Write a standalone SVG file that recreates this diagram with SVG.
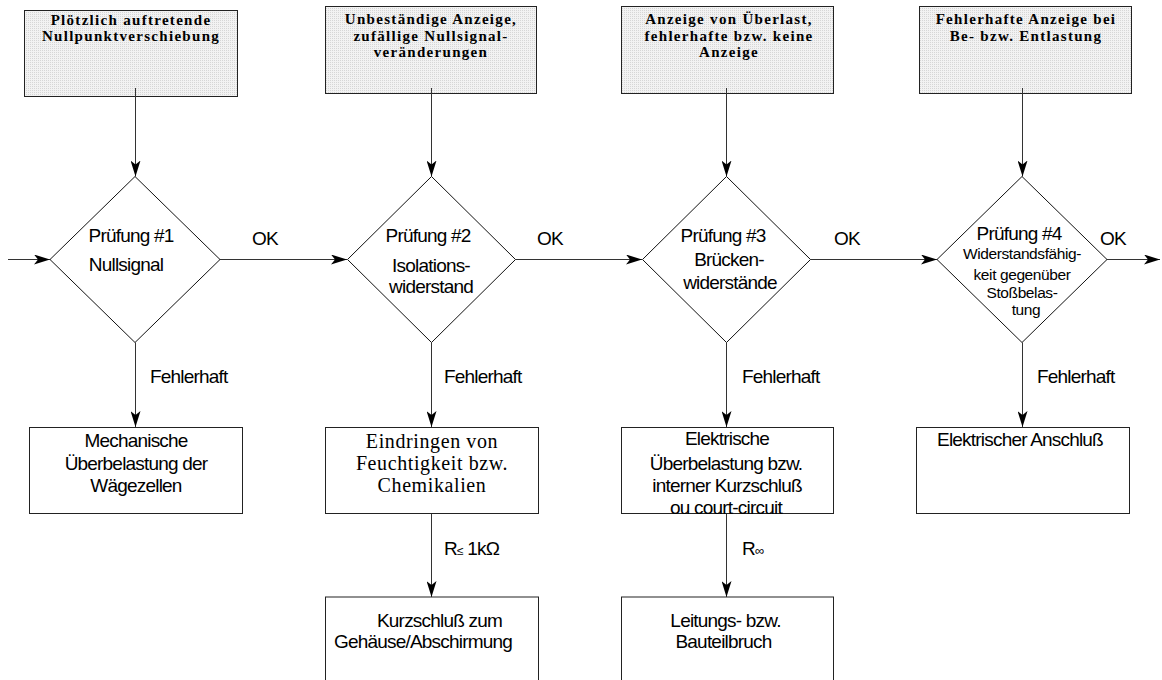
<svg xmlns="http://www.w3.org/2000/svg" width="1162" height="680" viewBox="0 0 1162 680">
<defs>
<pattern id="dots" width="2" height="2" patternUnits="userSpaceOnUse">
<rect width="2" height="2" fill="#f2f2f2"/>
<rect width="1" height="1" fill="#d6d6d6"/>
</pattern>
<marker id="ah" viewBox="0 0 16 10" refX="16" refY="5" markerWidth="16" markerHeight="10" markerUnits="userSpaceOnUse" orient="auto">
<path d="M0,0 L16,5 L0,10 L4,5 z" fill="#000"/>
</marker>
<style>
.sym{fill:url(#dots);stroke:#222;stroke-width:1}
.box{fill:#fff;stroke:#222;stroke-width:1}
.dia{fill:#fff;stroke:#111;stroke-width:1}
.con{fill:none;stroke:#333;stroke-width:1;marker-end:url(#ah)}
.t{font-family:"Liberation Sans",Arial,sans-serif;font-size:19px;letter-spacing:-0.8px;fill:#000}
.c{text-anchor:middle}
.sm{font-size:15.5px;letter-spacing:-0.4px}
.s{font-family:"Liberation Serif","Times New Roman",serif;font-size:20px;letter-spacing:0.6px;fill:#000;text-anchor:middle}
.h{font-family:"Liberation Serif","Times New Roman",serif;font-weight:bold;font-size:15px;letter-spacing:1.3px;fill:#000;text-anchor:middle}
</style>
</defs>
<rect width="1162" height="680" fill="#fff"/>

<g id="symptom1"><rect class="sym" x="24.5" y="10.5" width="213" height="86"/>
<text class="h" x="131" y="24.5">Plötzlich auftretende</text>
<text class="h" x="131" y="41">Nullpunktverschiebung</text></g>
<g id="symptom2"><rect class="sym" x="325.5" y="6.5" width="211" height="87"/>
<text class="h" x="431" y="24">Unbeständige Anzeige,</text>
<text class="h" x="431" y="40.5">zufällige Nullsignal-</text>
<text class="h" x="431" y="57">veränderungen</text></g>
<g id="symptom3"><rect class="sym" x="621.5" y="6.5" width="212" height="87"/>
<text class="h" x="729" y="24">Anzeige von Überlast,</text>
<text class="h" x="729" y="40.5">fehlerhafte bzw. keine</text>
<text class="h" x="729" y="57">Anzeige</text></g>
<g id="symptom4"><rect class="sym" x="919.5" y="6.5" width="212" height="87"/>
<text class="h" x="1026" y="24">Fehlerhafte Anzeige bei</text>
<text class="h" x="1026" y="40.5">Be- bzw. Entlastung</text></g>

<g id="connectors">
<path class="con" d="M135.5,88 V176.5"/>
<path class="con" d="M431.5,88 V176.5"/>
<path class="con" d="M726.5,88 V176.5"/>
<path class="con" d="M1022.5,88 V176.5"/>
<path class="con" d="M8,259.5 H50"/>
<path class="con" d="M220,259.5 H347"/>
<path class="con" d="M515.5,259.5 H642"/>
<path class="con" d="M810.5,259.5 H937"/>
<path class="con" d="M1107,259.5 H1160"/>
<path class="con" d="M135.5,342.5 V427"/>
<path class="con" d="M431.5,342.5 V427"/>
<path class="con" d="M726.5,342.5 V427"/>
<path class="con" d="M1022.5,342.5 V427"/>
<path class="con" d="M431.5,510 V597"/>
<path class="con" d="M726.5,510 V597"/>
<text class="t" x="252" y="245">OK</text>
<text class="t" x="537" y="245">OK</text>
<text class="t" x="834" y="245">OK</text>
<text class="t" x="1100" y="245">OK</text>
<text class="t" x="150" y="383">Fehlerhaft</text>
<text class="t" x="444" y="383">Fehlerhaft</text>
<text class="t" x="742" y="383">Fehlerhaft</text>
<text class="t" x="1037" y="383">Fehlerhaft</text>
<text class="t" x="444" y="555">R<tspan font-size="12">≤</tspan> 1kΩ</text>
<text class="t" x="742" y="555">R<tspan font-size="13">∞</tspan></text>
</g>

<g id="test1"><polygon class="dia" points="135,176.5 220,259.5 135,342.5 50,259.5"/>
<text class="t c" x="131" y="241.5">Prüfung #1</text>
<text class="t c" x="126" y="270.5">Nullsignal</text></g>
<g id="test2"><polygon class="dia" points="431.5,176.5 515.5,259.5 431.5,342.5 347.5,259.5"/>
<text class="t c" x="428" y="241.5">Prüfung #2</text>
<text class="t c" x="431" y="271.5">Isolations-</text>
<text class="t c" x="431" y="292.5">widerstand</text></g>
<g id="test3"><polygon class="dia" points="726.5,176.5 810.5,259.5 726.5,342.5 642.5,259.5"/>
<text class="t c" x="723" y="241.5">Prüfung #3</text>
<text class="t c" x="729" y="266">Brücken-</text>
<text class="t c" x="730" y="289">widerstände</text></g>
<g id="test4"><polygon class="dia" points="1022,176.5 1107,259.5 1022,342.5 937,259.5"/>
<text class="t c" x="1019" y="240">Prüfung #4</text>
<text class="t c sm" x="1022" y="259">Widerstandsfähig-</text>
<text class="t c sm" x="1022" y="280">keit gegenüber</text>
<text class="t c sm" x="1022" y="298">Stoßbelas-</text>
<text class="t c sm" x="1026" y="315">tung</text></g>

<g id="fault1"><rect class="box" x="29.5" y="427.5" width="213" height="86"/>
<text class="t c" x="136" y="447">Mechanische</text>
<text class="t c" x="136" y="470">Überbelastung der</text>
<text class="t c" x="136" y="492">Wägezellen</text></g>
<g id="fault2"><rect class="box" x="325.5" y="427.5" width="213" height="86"/>
<text class="s" x="432" y="448">Eindringen von</text>
<text class="s" x="432" y="470">Feuchtigkeit bzw.</text>
<text class="s" x="432" y="492">Chemikalien</text></g>
<g id="fault3"><rect class="box" x="621.5" y="427.5" width="212" height="86"/>
<text class="t c" x="727" y="445">Elektrische</text>
<text class="t c" x="726" y="469.5">Überbelastung bzw.</text>
<text class="t c" x="727" y="492">interner Kurzschluß</text>
<text class="t c" x="726" y="514">ou court-circuit</text></g>
<g id="fault4"><rect class="box" x="916.5" y="427.5" width="213" height="86"/>
<text class="t c" x="1020" y="446">Elektrischer Anschluß</text></g>
<g id="cause1"><rect class="box" x="325.5" y="597" width="213" height="100"/>
<text class="t c" x="439.5" y="627">Kurzschluß zum</text>
<text class="t c" x="423" y="648">Gehäuse/Abschirmung</text></g>
<g id="cause2"><rect class="box" x="621.5" y="597" width="212" height="100"/>
<text class="t c" x="725.5" y="627">Leitungs- bzw.</text>
<text class="t c" x="723.5" y="648">Bauteilbruch</text></g>
</svg>
